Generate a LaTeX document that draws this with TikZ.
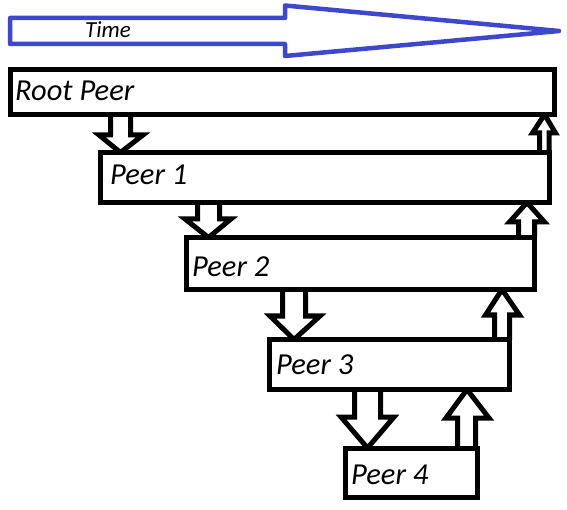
\documentclass[tikz,border=0pt]{standalone}
\usepackage{fontspec}
\setmainfont{Carlito}
\usetikzlibrary{calc,backgrounds}
\definecolor{timeblue}{RGB}{63,72,204}
\tikzset{
  peerbox/.style={draw=black, line width=5pt, fill=white, outer sep=0pt, inner sep=0pt},
  peerlabel/.style={anchor=base west, inner sep=0pt, font=\fontsize{30.5}{32}\selectfont\itshape},
  blockarr/.style={draw=black, line width=5pt, line join=miter, fill=white},
  timearr/.style={draw=timeblue, line width=4.5pt, line join=round},
  timelabel/.style={anchor=base west, inner sep=0pt, font=\fontsize{23}{25}\selectfont\itshape}
}
% down block arrow: #1 from node, #2 to node, #3 shaft left, #4 shaft right, #5 head left, #6 head right, #7 head base y, #8 tip x
\newcommand\dnarr[8]{%
  \path[blockarr] (#3,0 |- #1.south) -- (#3,#7) -- (#5,#7) -- (#8,0 |- #2.north) -- (#6,#7) -- (#4,#7) -- (#4,0 |- #1.south);
}
% up block arrow: #1 from (lower) node, #2 to (upper) node
\newcommand\uparr[8]{%
  \path[blockarr] (#3,0 |- #1.north) -- (#3,#7) -- (#5,#7) -- (#8,0 |- #2.south) -- (#6,#7) -- (#4,#7) -- (#4,0 |- #1.north);
}
\begin{document}
\begin{tikzpicture}[x=1pt, y=-1pt]
\useasboundingbox (0,0) rectangle (567,510);

% time arrow
\draw[timearr] (10,18) -- (285,18) -- (285,5.5) -- (559,31) -- (285,56) -- (285,44) -- (10,44) -- cycle;
\node[timelabel] (time) at (85,37.5) {Time};

% peer boxes
\node[peerbox, minimum width=544.5pt, minimum height=44.5pt] (root) at (282.25,92.25) {};
\node[peerbox, minimum width=449pt, minimum height=50pt] (p1) at (324.5,177.5) {};
\node[peerbox, minimum width=348.5pt, minimum height=52pt] (p2) at (360.25,263.5) {};
\node[peerbox, minimum width=240pt, minimum height=50pt] (p3) at (389.5,364.5) {};
\node[peerbox, minimum width=132pt, minimum height=49.5pt] (p4) at (411.5,472.75) {};

\node[peerlabel] (rootlbl) at (15,100.5) {Root Peer};
\node[peerlabel] (p1lbl) at (110,185) {Peer 1};
\node[peerlabel] (p2lbl) at (192,277) {Peer 2};
\node[peerlabel] (p3lbl) at (276,374) {Peer 3};
\node[peerlabel] (p4lbl) at (351,484) {Peer 4};

\begin{scope}[on background layer]
% down arrows
\dnarr{root}{p1}{110.5}{130.5}{99}{143}{135}{120.5}
\dnarr{p1}{p2}{197.5}{219.5}{185}{231}{219}{208.5}
\dnarr{p2}{p3}{282.5}{305.5}{270}{320}{316}{294}
\dnarr{p3}{p4}{354.5}{380.5}{341}{394}{417}{367.5}

% up arrows
\uparr{p1}{root}{539.5}{549}{532.5}{555.5}{133}{544.5}
\uparr{p2}{p1}{518.5}{534.5}{509.5}{544.5}{222}{527}
\uparr{p3}{p2}{494.5}{509.5}{485.5}{519.5}{315}{502}
\uparr{p4}{p3}{457.5}{475.5}{446}{489}{418}{467}
\end{scope}
\end{tikzpicture}
\end{document}
